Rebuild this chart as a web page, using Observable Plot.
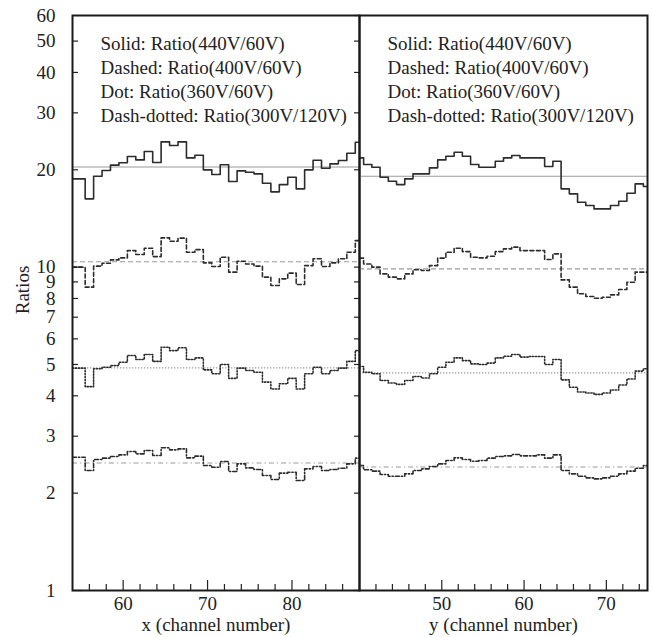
<!DOCTYPE html>
<html>
<head>
<meta charset="utf-8">
<script src="https://cdn.jsdelivr.net/npm/d3@7"></script>
<script src="https://cdn.jsdelivr.net/npm/@observablehq/plot@0.6"></script>
<style>
  body { margin: 0; background: #fff; }
  #wrap { position: relative; width: 652px; height: 637px; }
  #wrap > svg { position: absolute; top: 0; overflow: visible; }
  #wrap svg, #wrap text, #wrap tspan { font-family: "Liberation Serif", "Times New Roman", serif !important; }
</style>
</head>
<body>
<div id="wrap"></div>
<script>
// ---------- data ----------
const xChannels = [54,55,56,57,58,59,60,61,62,63,64,65,66,67,68,69,70,71,72,73,74,75,76,77,78,79,80,81,82,83,84,85,86,87,88];
const yChannels = [40,41,42,43,44,45,46,47,48,49,50,51,52,53,54,55,56,57,58,59,60,61,62,63,64,65,66,67,68,69,70,71,72,73,74,75];

const xSolid   = [18.75,18.75,16.26,19.11,19.89,20.67,21.02,21.98,21.46,22.78,21.06,24.40,23.77,24.40,21.77,22.19,19.99,19.33,20.72,18.39,19.85,19.66,19.43,18.17,17.09,18.00,18.97,17.46,19.99,21.41,20.23,20.86,21.36,22.51,24.34];
const xDashed  = [10.00,10.00,8.67,10.07,10.28,10.53,10.68,11.25,10.94,11.44,10.78,12.32,12.03,12.29,11.12,11.33,10.31,10.04,10.73,9.65,10.43,10.23,10.07,9.31,8.77,9.20,9.58,8.84,10.11,10.61,10.04,10.31,10.61,11.12,12.08];
const xDotted  = [4.87,4.87,4.27,4.85,4.90,4.96,5.08,5.33,5.18,5.37,5.11,5.65,5.52,5.63,5.18,5.24,4.81,4.68,5.00,4.53,4.87,4.79,4.73,4.41,4.20,4.36,4.53,4.20,4.68,4.90,4.68,4.79,4.87,5.11,5.52];
const xDashDot = [2.584,2.584,2.350,2.541,2.566,2.596,2.627,2.690,2.646,2.709,2.615,2.762,2.722,2.741,2.572,2.603,2.435,2.406,2.505,2.334,2.464,2.394,2.367,2.268,2.204,2.306,2.322,2.189,2.378,2.418,2.350,2.367,2.389,2.464,2.566];

const ySolid   = [21.77,20.76,20.37,18.97,18.44,18.00,18.75,19.43,19.43,20.28,21.46,22.03,22.67,22.03,20.76,20.37,20.37,21.26,21.77,22.14,21.77,21.77,21.77,20.47,21.26,17.46,16.85,15.88,15.51,15.14,15.14,15.51,15.99,16.93,18.09,17.75];
const yDashed  = [10.66,10.23,10.00,9.53,9.31,9.20,9.53,9.81,9.76,10.11,10.66,11.12,11.44,11.17,10.73,10.68,10.81,11.17,11.39,11.53,11.25,11.25,11.25,10.56,10.99,9.13,8.67,8.27,8.11,8.01,8.07,8.21,8.53,8.98,9.65,9.65];
const yDotted  = [4.93,4.73,4.68,4.46,4.38,4.34,4.46,4.59,4.54,4.68,4.90,5.08,5.24,5.14,5.02,5.00,5.05,5.24,5.30,5.37,5.27,5.29,5.29,5.00,5.18,4.48,4.25,4.11,4.08,4.04,4.08,4.17,4.32,4.51,4.77,4.85];
const yDashDot = [2.435,2.362,2.339,2.284,2.257,2.257,2.295,2.350,2.378,2.418,2.464,2.523,2.572,2.541,2.511,2.523,2.566,2.596,2.609,2.634,2.609,2.609,2.627,2.566,2.627,2.350,2.295,2.257,2.230,2.214,2.230,2.257,2.295,2.339,2.389,2.435];

// reference (mean) levels per series
const xRefs = [20.4, 10.39, 4.88, 2.48];
const yRefs = [19.1, 9.88, 4.71, 2.41];

const legendLines = [
  "Solid: Ratio(440V/60V)",
  "Dashed: Ratio(400V/60V)",
  "Dot: Ratio(360V/60V)",
  "Dash-dotted: Ratio(300V/120V)"
];

const yTickLabels = [1,2,3,4,5,6,7,8,9,10,20,30,40,50,60];
const yDecades = [1,10];
const yMinor = [2,3,4,5,6,7,8,9,20,30,40,50];
const xMajorLeft = [60,70,80];
const xMinorLeft = [56,58,62,64,66,68,72,74,76,78,82,84,86];
const xMajorRight = [50,60,70];
const xMinorRight = [42,44,46,48,52,54,56,58,62,64,66,68,72,74];

// ---------- styles ----------
const FONT = '"Liberation Serif", "Times New Roman", serif';
const FS = 19;
const H = 637, MT = 15, MB = 47;
const lineDash = [null, "4,2.5", "1.3,1.7", "4,2,1.3,2"];
const refDash  = [null, "5,3", "1.3,1.7", "5,3,1.3,3"];

function panel(o) {
  const innerW = o.width - o.marginLeft - o.marginRight;
  const innerH = H - MT - MB;
  const marks = [];
  o.refs.forEach((r, i) => {
    marks.push(Plot.ruleY([r], {y: d => d, stroke: "#9a9a9a", strokeWidth: 1.1, strokeDasharray: refDash[i]}));
  });
  o.values.forEach((vals, i) => {
    const rows = o.channels.map((c, j) => ({x: c, y: vals[j]}));
    marks.push(Plot.lineY(rows, {x: "x", y: "y", curve: "step", stroke: "#2c2c2c", strokeWidth: 1.6, strokeDasharray: lineDash[i], clip: true}));
  });
  // inward ticks on bottom edge
  marks.push(Plot.ruleX(o.majorX, {x: d => d, insetTop: innerH - 10, stroke: "#222", strokeWidth: 1.2}));
  marks.push(Plot.ruleX(o.minorX, {x: d => d, insetTop: innerH - 6, stroke: "#222", strokeWidth: 1.2}));
  if (o.yAxis) {
    marks.push(Plot.ruleY(yDecades, {y: d => d, insetRight: innerW - 10, stroke: "#222", strokeWidth: 1.2}));
    marks.push(Plot.ruleY(yMinor, {y: d => d, insetRight: innerW - 6, stroke: "#222", strokeWidth: 1.2}));
    marks.push(Plot.ruleY(yTickLabels, {y: d => d, insetLeft: innerW - 5, stroke: "#222", strokeWidth: 1.2}));
    marks.push(Plot.axisY(yTickLabels, {tickSize: 0, tickPadding: 17, tickFormat: d => String(d), fontSize: FS, fontFamily: FONT, fill: "#222", label: null}));
    marks.push(Plot.text(["Ratios"], {text: d => d, frameAnchor: "left", textAnchor: "middle", lineAnchor: "middle", rotate: -90, dx: -50, dy: -13, fontSize: FS, fontFamily: FONT, fill: "#222"}));
  }
  marks.push(Plot.axisX(o.majorX, {tickSize: 0, tickPadding: 6, fontSize: FS, fontFamily: FONT, fill: "#222", label: null}));
  marks.push(Plot.text([o.xLabel], {text: d => d, frameAnchor: "bottom", dy: 40, fontSize: FS, fontFamily: FONT, fill: "#222"}));
  marks.push(Plot.text([legendLines.join("\n")], {text: d => d, frameAnchor: "top-left", textAnchor: "start", lineAnchor: "top", dx: 28, dy: 17, lineHeight: 1.27, fontSize: FS, fontFamily: FONT, fill: "#222"}));
  marks.push(Plot.frame({stroke: "#1a1a1a", strokeWidth: 2}));
  return Plot.plot({
    width: o.width, height: H,
    marginLeft: o.marginLeft, marginRight: o.marginRight, marginTop: MT, marginBottom: MB,
    style: {fontFamily: FONT, fontSize: FS + "px", background: "transparent", overflow: "visible"},
    x: {domain: o.xDomain, axis: null},
    y: {type: "log", domain: [1, 60], axis: null},
    marks
  });
}

const left = panel({
  width: 361, marginLeft: 72, marginRight: 2,
  channels: xChannels, values: [xSolid, xDashed, xDotted, xDashDot], refs: xRefs,
  xDomain: [54, 88], majorX: xMajorLeft, minorX: xMinorLeft,
  xLabel: "x (channel number)", yAxis: true
});
const right = panel({
  width: 293, marginLeft: 0, marginRight: 5,
  channels: yChannels, values: [ySolid, yDashed, yDotted, yDashDot], refs: yRefs,
  xDomain: [40, 75], majorX: xMajorRight, minorX: xMinorRight,
  xLabel: "y (channel number)", yAxis: false
});
left.style.left = "0px";
right.style.left = "359px";
const wrap = document.getElementById("wrap");
wrap.appendChild(left);
wrap.appendChild(right);
</script>
</body>
</html>
